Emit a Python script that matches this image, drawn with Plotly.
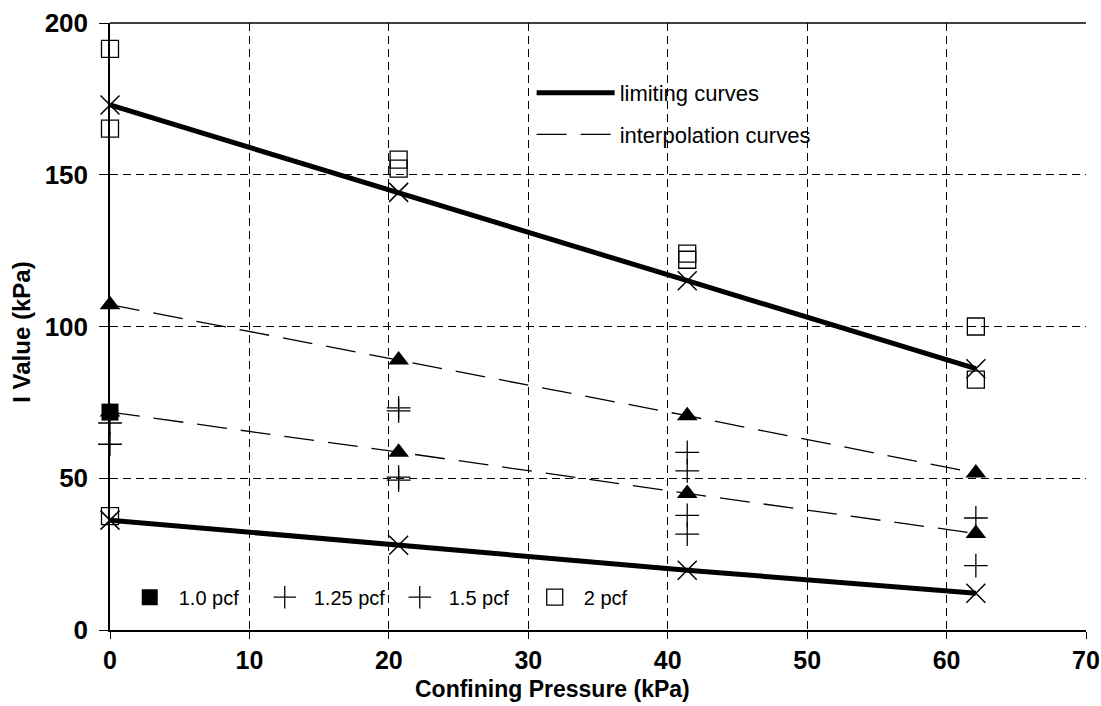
import plotly.graph_objects as go

# Confining pressure steps (kPa)
pressure = [0, 20.7, 41.4, 62.1]

# Limiting and interpolation curves (kPa)
limit_upper = [173.0, 144.2, 115.1, 86.1]
limit_lower = [36.2, 27.9, 19.7, 12.1]
interp_upper = [107.2, 89.0, 70.6, 51.7]
interp_lower = [71.8, 58.6, 45.0, 31.8]

# Measured I values by foam density
pcf10_x = [0]
pcf10_y = [71.8]
pcf125_x = [0, 20.7, 20.7, 41.4, 41.4, 62.1]
pcf125_y = [68.2, 73.2, 72.2, 58.5, 52.4, 36.9]
pcf15_x = [0, 20.7, 20.7, 41.4, 41.4, 62.1]
pcf15_y = [61.2, 50.4, 49.4, 37.8, 31.6, 21.2]
pcf20_x = [0, 0, 0, 20.7, 20.7, 41.4, 41.4, 62.1, 62.1]
pcf20_y = [191.5, 165.2, 37.5, 155.0, 152.0, 124.0, 122.0, 100.0, 82.5]

x_ticks = [0, 10, 20, 30, 40, 50, 60, 70]
y_ticks = [0, 50, 100, 150, 200]

FONT = "Liberation Sans, Arial, sans-serif"
INK = "black"

fig = go.Figure()

# limiting curves
for ys, show in ((limit_upper, True), (limit_lower, False)):
    fig.add_trace(go.Scatter(
        x=pressure, y=ys, mode="lines",
        line=dict(color=INK, width=5),
        name="limiting curves", legend="legend2", legendgroup="lim",
        showlegend=show, cliponaxis=False))
    fig.add_trace(go.Scatter(
        x=pressure, y=ys, mode="markers", cliponaxis=False,
        marker=dict(symbol="x-thin-open", size=19, color=INK,
                    line=dict(color=INK, width=1.5)),
        showlegend=False))

# interpolation curves
for ys, show in ((interp_upper, True), (interp_lower, False)):
    fig.add_trace(go.Scatter(
        x=pressure, y=ys, mode="lines",
        line=dict(color=INK, width=1.3, dash="30px,14px"),
        name="interpolation curves", legend="legend2", legendgroup="int",
        showlegend=show, cliponaxis=False))
    fig.add_trace(go.Scatter(
        x=pressure, y=ys, mode="markers", cliponaxis=False,
        marker=dict(symbol="triangle-up", size=18, color=INK),
        showlegend=False))

# density series
fig.add_trace(go.Scatter(
    x=pcf10_x, y=pcf10_y, mode="markers", name="1.0 pcf", cliponaxis=False,
    marker=dict(symbol="square", size=17, color=INK)))
fig.add_trace(go.Scatter(
    x=pcf125_x, y=pcf125_y, mode="markers", name="1.25 pcf", cliponaxis=False,
    marker=dict(symbol="cross-thin-open", size=17, color=INK,
                line=dict(color=INK, width=1.3))))
fig.add_trace(go.Scatter(
    x=pcf15_x, y=pcf15_y, mode="markers", name="1.5 pcf", cliponaxis=False,
    marker=dict(symbol="cross-thin-open", size=17, color=INK,
                line=dict(color=INK, width=1.3))))
fig.add_trace(go.Scatter(
    x=pcf20_x, y=pcf20_y, mode="markers", name="2 pcf", cliponaxis=False,
    marker=dict(symbol="square-open", size=17, color=INK,
                line=dict(color=INK, width=1.3))))

fig.update_layout(
    width=1101, height=706,
    margin=dict(l=110, r=15, t=23, b=76, autoexpand=False),
    paper_bgcolor="white", plot_bgcolor="white",
    font=dict(family=FONT, color=INK),
    legend=dict(
        orientation="h", x=0.011, y=0.054, xanchor="left", yanchor="middle",
        entrywidth=72, entrywidthmode="pixels", itemwidth=48,
        font=dict(size=20, family=FONT, color=INK),
        bgcolor="rgba(0,0,0,0)", borderwidth=0),
    legend2=dict(
        x=0.432, y=0.85, xanchor="left", yanchor="middle",
        tracegroupgap=10, itemwidth=78,
        font=dict(size=22, family=FONT, color=INK),
        bgcolor="rgba(0,0,0,0)", borderwidth=0),
    shapes=[
        # frame line along the top of the plotting area
        dict(type="line", xref="paper", yref="paper", x0=0, x1=1, y0=1, y1=1,
             line=dict(color=INK, width=1.5)),
    ],
    annotations=[
        dict(text="<b>Confining Pressure (kPa)</b>", xref="paper", yref="paper",
             x=0.453, y=-0.097, xanchor="center", yanchor="middle",
             showarrow=False, font=dict(size=23, family=FONT, color=INK)),
        dict(text="<b>I Value (kPa)</b>", xref="paper", yref="paper",
             x=-0.091, y=0.49, xanchor="center", yanchor="middle", textangle=-90,
             showarrow=False, font=dict(size=24, family=FONT, color=INK)),
    ],
)

fig.update_xaxes(
    range=[0, 70], tickvals=x_ticks, ticktext=[str(v) for v in x_ticks],
    showline=True, linecolor=INK, linewidth=1.5, mirror=False,
    ticks="outside", ticklen=7, tickcolor=INK, tickwidth=1.3,
    showgrid=True, gridcolor=INK, gridwidth=1, griddash="8px,5px",
    zeroline=False, automargin=False,
    tickfont=dict(size=25, family=FONT, color=INK, weight="bold"),
)
fig.update_yaxes(
    range=[0, 200], tickvals=y_ticks, ticktext=[str(v) for v in y_ticks],
    showline=True, linecolor=INK, linewidth=1.5, mirror=False,
    ticks="outside", ticklen=9, tickcolor=INK, tickwidth=1.3,
    showgrid=True, gridcolor=INK, gridwidth=1, griddash="8px,5px",
    zeroline=False, automargin=False,
    tickfont=dict(size=26, family=FONT, color=INK, weight="bold"),
    ticklabelstandoff=6,
)

fig.write_html("out.html")
